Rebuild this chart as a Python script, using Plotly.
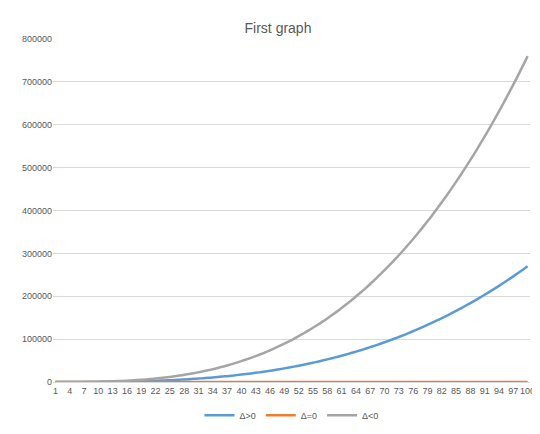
import plotly.graph_objects as go

x = list(range(1, 101))
tick_labels = list(range(1, 101, 3))

pos = [0,2,7,17,34,58,93,138,197,270,359,467,593,741,911,1106,1327,1575,1852,2160,2500,2875,3285,3732,4219,4746,5314,5927,6585,7290,8044,8847,9703,10612,11576,12597,13676,14815,16016,17280,18609,20004,21467,23000,24604,26281,28032,29860,31765,33750,35816,37964,40197,42515,44921,47416,50002,52680,55452,58320,61285,64349,67513,70779,74149,77624,81206,84897,88697,92610,96636,100777,105035,109410,113906,118524,123264,128129,133121,138240,143489,148869,154382,160030,165814,171735,177796,183997,190342,196830,203464,210246,217176,224258,231491,238879,246422,254122,261981,270000]
zero = [0,1,1,2,2,3,3,4,4,5,5,6,6,7,7,8,8,9,9,10,10,11,11,12,12,13,13,14,14,15,15,16,16,17,17,18,18,19,19,20,20,21,21,22,22,23,23,24,24,25,25,26,26,27,27,28,28,29,29,30,30,31,31,32,32,33,33,34,34,35,35,36,36,37,37,38,38,39,39,40,40,41,41,42,42,43,43,44,44,45,45,46,46,47,47,48,48,49,49,50]
neg = [1,6,21,49,95,164,261,389,554,760,1012,1313,1670,2085,2565,3113,3734,4432,5213,6080,7038,8092,9247,10506,11875,13358,14959,16684,18536,20520,22641,24904,27312,29871,32585,35459,38496,41703,45082,48640,52380,56307,60425,64740,69255,73975,78905,84050,89413,95000,100815,106862,113147,119673,126445,133468,140747,148285,156088,164160,172506,181129,190036,199229,208715,218497,228580,238968,249667,260680,272012,283668,295653,307970,320625,333622,346965,360660,374710,389120,403895,419040,434558,450455,466735,483403,500462,517919,535776,554040,572714,591803,611311,631244,651605,672399,693631,715306,737427,760000]

fig = go.Figure()
for name, y, c in [("Δ>0", pos, "#5B9BD5"), ("Δ=0", zero, "#ED7D31"), ("Δ<0", neg, "#A5A5A5")]:
    fig.add_trace(go.Scatter(x=x, y=y, name=name, mode="lines", line=dict(color=c, width=2.5, shape="spline")))

fig.update_layout(
    width=540, height=434, plot_bgcolor="white", paper_bgcolor="white",
    font=dict(family="Liberation Sans, Arial", size=9, color="#595959"),
    title=dict(text="First graph", x=0.5, xanchor="center", y=0.965, font=dict(size=14, color="#595959")),
    margin=dict(l=45, r=18, t=31, b=34),
    legend=dict(orientation="h", x=0.5, xanchor="center", y=-0.055, yanchor="top", font=dict(size=9)),
    showlegend=True,
)
fig.update_xaxes(range=[0.5, 100.5], tickmode="array", tickvals=tick_labels, ticktext=[str(t) for t in tick_labels],
                 showgrid=False, showline=True, linecolor="#D9D9D9", ticks="", tickangle=0, zeroline=False)
fig.update_yaxes(range=[0, 800000], dtick=100000, showgrid=True, gridcolor="#D9D9D9", showline=False,
                 zeroline=False, tickformat="d", ticks="")
fig.write_html("out.html")
